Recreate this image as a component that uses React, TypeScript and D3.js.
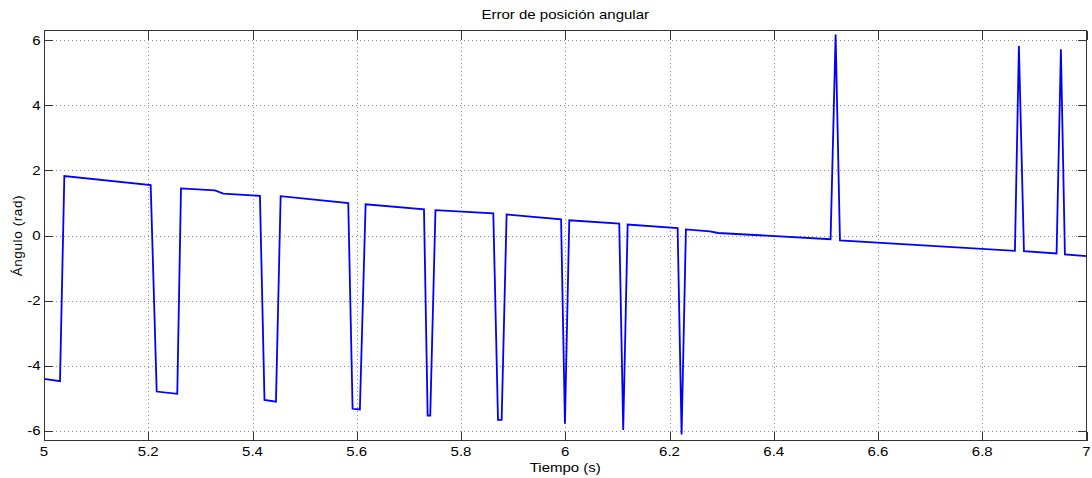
import React, { useEffect, useRef } from "react";
import * as d3 from "d3";

// Angular position error samples (time in s, angle in rad)
const times: number[] = [
  5.0, 5.0307, 5.039, 5.2047, 5.2162, 5.2557, 5.2628, 5.328, 5.344, 5.4143,
  5.423, 5.445, 5.454, 5.5837, 5.592, 5.606, 5.617, 5.729, 5.736, 5.741,
  5.751, 5.862, 5.871, 5.878, 5.8875, 5.992, 5.9994, 6.0077, 6.1036, 6.1112,
  6.1197, 6.2156, 6.2232, 6.2315, 6.2775, 6.2935, 6.509, 6.5187, 6.527, 6.8627,
  6.8703, 6.88, 6.9426, 6.9509, 6.9586, 7.0,
];
const angles: number[] = [
  -4.4, -4.47, 1.83, 1.55, -4.79, -4.86, 1.45, 1.39, 1.29, 1.22,
  -5.05, -5.1, 1.21, 1.0, -5.32, -5.34, 0.96, 0.81, -5.53, -5.53,
  0.78, 0.68, -5.66, -5.66, 0.65, 0.5, -5.78, 0.47, 0.37, -5.97,
  0.34, 0.23, -6.11, 0.19, 0.13, 0.08, -0.11, 6.18, -0.15, -0.47,
  5.82, -0.48, -0.55, 5.72, -0.58, -0.63,
];

const xTicks: number[] = [5, 5.2, 5.4, 5.6, 5.8, 6, 6.2, 6.4, 6.6, 6.8, 7];
const yTicks: number[] = [-6, -4, -2, 0, 2, 4, 6];

const titleText = "Error de posición angular";
const xLabelText = "Tiempo (s)";
const yLabelText = "Ángulo (rad)";

const W = 1092;
const H = 478;
const M = { left: 44, right: 1086.5, top: 30.5, bottom: 440.7 };
const FONT = "'Liberation Sans', Arial, Helvetica, sans-serif";
const SX = 1.2; // horizontal glyph widening

export default function App() {
  const ref = useRef<SVGSVGElement>(null);

  useEffect(() => {
    const svg = d3.select(ref.current);
    svg.selectAll("*").remove();

    const x = d3.scaleLinear().domain([5, 7]).range([M.left, M.right]);
    const y = d3.scaleLinear().domain([-6.3, 6.3]).range([M.bottom, M.top]);

    svg.append("rect").attr("width", W).attr("height", H).attr("fill", "#fff");

    // dotted grid
    const grid = svg.append("g").attr("stroke", "#8c8c8c").attr("stroke-width", 1)
      .attr("stroke-dasharray", "1,3").attr("shape-rendering", "crispEdges");
    xTicks.slice(1, -1).forEach((t) => {
      grid.append("line").attr("x1", Math.round(x(t)) + 0.5).attr("x2", Math.round(x(t)) + 0.5)
        .attr("y1", M.top).attr("y2", M.bottom);
    });
    yTicks.forEach((t) => {
      grid.append("line").attr("y1", Math.round(y(t)) + 0.5).attr("y2", Math.round(y(t)) + 0.5)
        .attr("x1", M.left).attr("x2", M.right);
    });

    // data line
    const pts: [number, number][] = times.map((t, i) => [t, angles[i]]);
    const line = d3.line<[number, number]>().x((d) => x(d[0])).y((d) => y(d[1]));
    svg.append("path").datum(pts).attr("d", line).attr("fill", "none")
      .attr("stroke", "#0000ff").attr("stroke-width", 1.8).attr("stroke-linejoin", "miter");

    // box and inward ticks
    const axisG = svg.append("g").attr("stroke", "#333").attr("stroke-width", 1)
      .attr("shape-rendering", "crispEdges");
    axisG.append("rect").attr("x", M.left).attr("y", M.top)
      .attr("width", M.right - M.left).attr("height", M.bottom - M.top).attr("fill", "none");
    const tl = 9;
    xTicks.forEach((t) => {
      const px = Math.round(x(t)) + 0.5;
      axisG.append("line").attr("x1", px).attr("x2", px).attr("y1", M.bottom).attr("y2", M.bottom - tl);
      axisG.append("line").attr("x1", px).attr("x2", px).attr("y1", M.top).attr("y2", M.top + tl);
    });
    yTicks.forEach((t) => {
      const py = Math.round(y(t)) + 0.5;
      axisG.append("line").attr("y1", py).attr("y2", py).attr("x1", M.left).attr("x2", M.left + tl);
      axisG.append("line").attr("y1", py).attr("y2", py).attr("x1", M.right).attr("x2", M.right - tl);
    });

    const txt = svg.append("g").attr("font-family", FONT).attr("font-size", 12.5).attr("fill", "#000");
    const label = (px: number, py: number, anchor: string, s: string) =>
      txt.append("text").attr("transform", `translate(${px},${py}) scale(${SX},1)`)
        .attr("text-anchor", anchor).text(s);

    xTicks.forEach((t) => label(x(t), 456, "middle", String(t)));
    yTicks.forEach((t) => label(40.5, y(t) + 4.5, "end", String(t)));

    const cx = (M.left + M.right) / 2;
    label(cx, 19, "middle", titleText);
    label(cx, 471.5, "middle", xLabelText);
    txt.append("text").attr("transform", `translate(22,${(M.top + M.bottom) / 2}) rotate(-90)`)
      .attr("text-anchor", "middle").attr("font-size", 13.5).attr("letter-spacing", 0.6)
      .text(yLabelText);
  }, []);

  return (
    <svg ref={ref} width={W} height={H}
      style={{ position: "absolute", left: 0, top: 0, display: "block" }} />
  );
}
